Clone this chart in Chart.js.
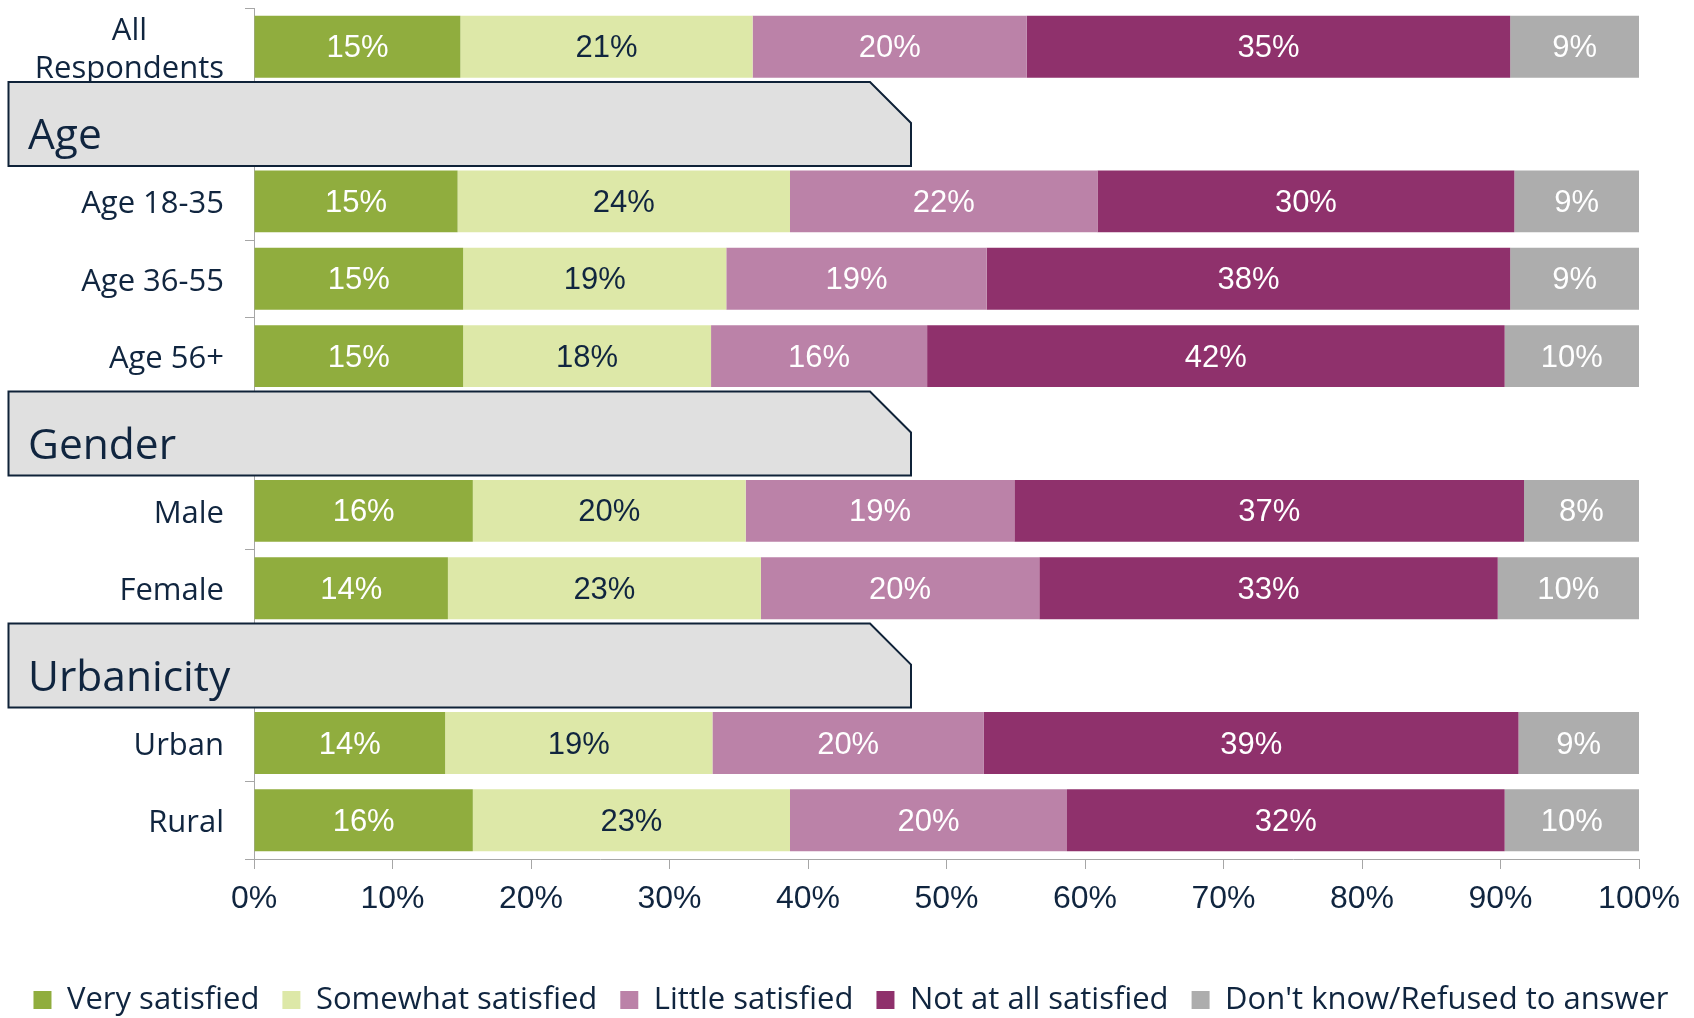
<!DOCTYPE html>
<html><head><meta charset="utf-8">
<script src="https://cdn.jsdelivr.net/npm/chart.js@4.4.1/dist/chart.umd.min.js"></script>
<style>html,body{margin:0;padding:0;background:#fff}#wrap{width:1694px;height:1018px;position:relative}</style>
</head><body><div id="wrap"><canvas id="c"></canvas></div>
<script>
// ---- data ----
const categories = [['All', 'Respondents'], 'Age', 'Age 18-35', 'Age 36-55', 'Age 56+', 'Gender', 'Male', 'Female', 'Urbanicity', 'Urban', 'Rural'];
const groupHeaders = ['Age', 'Gender', 'Urbanicity'];
const seriesNames = ['Very satisfied', 'Somewhat satisfied', 'Little satisfied', 'Not at all satisfied', "Don't know/Refused to answer"];
const verySatisfied     = [14.9, null, 14.7, 15.1, 15.1, null, 15.8, 14.0, null, 13.8, 15.8];
const somewhatSatisfied = [21.1, null, 24.0, 19.0, 17.9, null, 19.7, 22.6, null, 19.3, 22.9];
const littleSatisfied   = [19.8, null, 22.2, 18.8, 15.6, null, 19.4, 20.1, null, 19.6, 20.0];
const notAtAllSatisfied = [34.9, null, 30.1, 37.8, 41.7, null, 36.8, 33.1, null, 38.6, 31.6];
const dontKnow          = [9.3,  null, 9.0,  9.3,  9.7,  null, 8.3,  10.2, null, 8.7,  9.7];
const xTickValues = [0, 10, 20, 30, 40, 50, 60, 70, 80, 90, 100];

// ---- styles ----
const seriesColors = ['#90ad3e', '#dde8a8', '#bb82a8', '#8f316c', '#adadad'];
const labelColors = ['#ffffff', '#10253f', '#ffffff', '#ffffff', '#ffffff'];
const NAVY = '#10253f';
const AXIS_GRAY = '#a6a6a6';
const TEXT_FONT = '"Open Sans", "DejaVu Sans", sans-serif';
const NUM_FONT = '"Liberation Sans Narrow", "Liberation Sans", sans-serif';

const seriesValues = [verySatisfied, somewhatSatisfied, littleSatisfied, notAtAllSatisfied, dontKnow];

const customDraw = {
  id: 'customDraw',
  afterDatasetsDraw(chart) {
    const ctx = chart.ctx;
    const ys = chart.scales.y;
    // bar value labels
    ctx.save();
    ctx.font = '31px ' + NUM_FONT;
    ctx.textAlign = 'center';
    ctx.textBaseline = 'middle';
    chart.data.datasets.forEach((ds, di) => {
      const meta = chart.getDatasetMeta(di);
      ctx.fillStyle = labelColors[di];
      meta.data.forEach((bar, i) => {
        const v = ds.data[i];
        if (v == null) return;
        ctx.fillText(Math.round(v) + '%', (bar.x + bar.base) / 2, bar.y + 2);
      });
    });
    ctx.restore();

    // category labels and group header boxes
    const slot = ys.getPixelForValue(1) - ys.getPixelForValue(0);
    categories.forEach((lab, i) => {
      const cy = ys.getPixelForValue(i);
      if (typeof lab === 'string' && groupHeaders.includes(lab)) {
        const half = slot * 0.543;
        const left = 8.5, right = 911, cut = 41;
        const top = cy - half, bottom = cy + half;
        ctx.save();
        ctx.beginPath();
        ctx.moveTo(left, top);
        ctx.lineTo(right - cut, top);
        ctx.lineTo(right, top + cut);
        ctx.lineTo(right, bottom);
        ctx.lineTo(left, bottom);
        ctx.closePath();
        ctx.fillStyle = '#e0e0e0';
        ctx.fill();
        ctx.lineWidth = 2;
        ctx.strokeStyle = '#0f2238';
        ctx.stroke();
        ctx.fillStyle = NAVY;
        ctx.font = '42.5px ' + TEXT_FONT;
        ctx.textAlign = 'left';
        ctx.textBaseline = 'alphabetic';
        ctx.fillText(lab, 28, cy + 25);
        ctx.restore();
      } else {
        const lines = Array.isArray(lab) ? lab : [lab];
        ctx.save();
        ctx.font = '31px ' + TEXT_FONT;
        ctx.fillStyle = NAVY;
        ctx.textAlign = 'center';
        ctx.textBaseline = 'middle';
        const w = Math.max(...lines.map(l => ctx.measureText(l).width));
        const rx = ys.right - 30;
        const lh = 38;
        lines.forEach((l, k) => {
          ctx.fillText(l, rx - w / 2, cy + 3 + (k - (lines.length - 1) / 2) * lh);
        });
        ctx.restore();
      }
    });
  }
};

new Chart(document.getElementById('c'), {
  type: 'bar',
  data: {
    labels: categories,
    datasets: seriesNames.map((n, i) => ({
      label: n,
      data: seriesValues[i],
      backgroundColor: seriesColors[i],
      borderWidth: 0,
      barPercentage: 0.8,
      categoryPercentage: 1.0
    }))
  },
  options: {
    indexAxis: 'y',
    responsive: true,
    maintainAspectRatio: false,
    animation: false,
    layout: { padding: { top: 8, left: 8, right: 0, bottom: -7.5 } },
    scales: {
      x: {
        stacked: true,
        min: 0, max: 100,
        afterBuildTicks: s => { s.ticks = xTickValues.map(v => ({ value: v })); },
        afterFit: s => { s.height = 102.5; },
        grid: { display: true, drawOnChartArea: false, drawTicks: true, tickLength: 10, color: AXIS_GRAY },
        border: { display: true, color: AXIS_GRAY, width: 1 },
        ticks: { padding: 11, color: NAVY, font: { family: NUM_FONT, size: 32 }, callback: v => v + '%', maxRotation: 0 }
      },
      y: {
        stacked: true,
        afterFit: s => { s.width = 246; },
        grid: { display: true, drawOnChartArea: false, drawTicks: true, tickLength: 9, color: AXIS_GRAY, offset: true },
        border: { display: true, color: AXIS_GRAY, width: 1 },
        ticks: { display: false }
      },
      yRight: {
        type: 'linear',
        axis: 'y',
        position: 'right',
        afterFit: s => { s.width = 55; },
        grid: { display: false },
        border: { display: false },
        ticks: { display: false }
      }
    },
    plugins: {
      legend: {
        position: 'bottom',
        labels: {
          boxWidth: 18, boxHeight: 18, padding: 23,
          color: NAVY,
          font: { family: TEXT_FONT, size: 31 }
        }
      },
      tooltip: { enabled: false }
    }
  },
  plugins: [customDraw]
});
</script></body></html>
